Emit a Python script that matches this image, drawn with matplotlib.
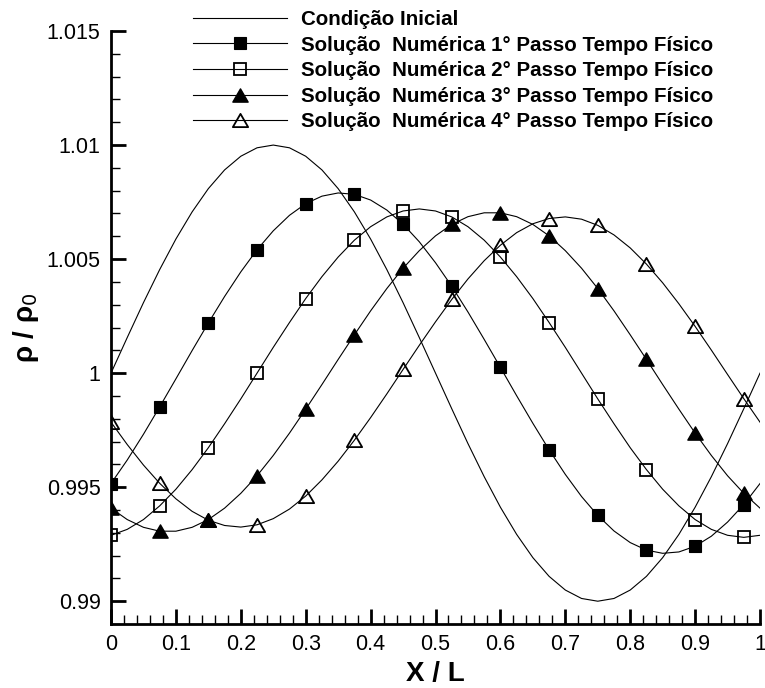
import numpy as np
import matplotlib.pyplot as plt
from matplotlib.path import Path
from matplotlib.ticker import MultipleLocator, FormatStrFormatter

plt.rcParams['font.family'] = ['Liberation Sans', 'DejaVu Sans']

# x / L sample points (symbols every third point: 0, 0.075, ... 0.975)
x_l = np.round(np.arange(41) * 0.025, 3)

rho_inicial = [1.0, 1.00156, 1.00309, 1.00454, 1.00588, 1.00707, 1.00809, 1.00891,
               1.00951, 1.00988, 1.01, 1.00988, 1.00951, 1.00891, 1.00809, 1.00707,
               1.00588, 1.00454, 1.00309, 1.00156, 1.0, 0.99844, 0.99691, 0.99546,
               0.99412, 0.99293, 0.99191, 0.99109, 0.99049, 0.99012, 0.99, 0.99012,
               0.99049, 0.99109, 0.99191, 0.99293, 0.99412, 0.99546, 0.99691, 0.99844,
               1.0]

rho_passo1 = [0.99516, 0.99619, 0.99732, 0.99852, 0.99975, 1.00099, 1.00220, 1.00336,
              1.00444, 1.00541, 1.00624, 1.00692, 1.00743, 1.00776, 1.00790, 1.00784,
              1.00759, 1.00715, 1.00653, 1.00576, 1.00484, 1.00381, 1.00268, 1.00148,
              1.00025, 0.99901, 0.99780, 0.99664, 0.99556, 0.99459, 0.99376, 0.99308,
              0.99257, 0.99224, 0.99210, 0.99216, 0.99241, 0.99285, 0.99347, 0.99424,
              0.99516]

rho_passo2 = [0.99289, 0.99315, 0.99358, 0.99418, 0.99491, 0.99577, 0.99673, 0.99778,
              0.99887, 1.0, 1.00113, 1.00222, 1.00327, 1.00423, 1.00509, 1.00583,
              1.00642, 1.00685, 1.00711, 1.0072, 1.00711, 1.00685, 1.00642, 1.00583,
              1.00509, 1.00423, 1.00327, 1.00222, 1.00113, 1.0, 0.99887, 0.99778,
              0.99673, 0.99577, 0.99491, 0.99418, 0.99358, 0.99315, 0.99289, 0.9928,
              0.99289]

rho_passo3 = [0.99408, 0.99358, 0.99324, 0.99307, 0.99307, 0.99324, 0.99358, 0.99408,
              0.99473, 0.99550, 0.99639, 0.99737, 0.99842, 0.99950, 1.00060, 1.00168,
              1.00273, 1.00371, 1.00460, 1.00537, 1.00602, 1.00652, 1.00686, 1.00703,
              1.00703, 1.00686, 1.00652, 1.00602, 1.00537, 1.00460, 1.00371, 1.00273,
              1.00168, 1.00060, 0.99950, 0.99842, 0.99737, 0.99639, 0.99550, 0.99473,
              0.99408]

rho_passo4 = [0.99785, 0.99687, 0.99597, 0.99517, 0.99449, 0.99394, 0.99355, 0.99332,
              0.99325, 0.99335, 0.99362, 0.99404, 0.99461, 0.99532, 0.99614, 0.99706,
              0.99805, 0.99909, 1.00016, 1.00122, 1.00225, 1.00323, 1.00413, 1.00493,
              1.00561, 1.00616, 1.00655, 1.00678, 1.00685, 1.00675, 1.00648, 1.00606,
              1.00549, 1.00478, 1.00396, 1.00304, 1.00205, 1.00101, 0.99994, 0.99888,
              0.99785]

labels = ['Condição Inicial',
          'Solução  Numérica 1° Passo Tempo Físico',
          'Solução  Numérica 2° Passo Tempo Físico',
          'Solução  Numérica 3° Passo Tempo Físico',
          'Solução  Numérica 4° Passo Tempo Físico']

y_ticks = [0.99, 0.995, 1.0, 1.005, 1.01, 1.015]
x_ticks = [0, 0.1, 0.2, 0.3, 0.4, 0.5, 0.6, 0.7, 0.8, 0.9, 1]

# equilateral triangle symbol (wider than the stock '^')
tri = Path([(-1, -0.866), (1, -0.866), (0, 0.866), (-1, -0.866)], closed=True)

fig = plt.figure(figsize=(7.65, 6.88), dpi=100)
ax = fig.add_axes([0.1451, 0.0930, 0.8484, 0.8619])

ax.plot(x_l, rho_inicial, color='black', lw=0.8, label=labels[0])
ax.plot(x_l, rho_passo1, color='black', lw=0.8, marker='s', ms=8.5, mfc='black',
        mec='black', mew=0.8, markevery=3, label=labels[1])
ax.plot(x_l, rho_passo2, color='black', lw=0.8, marker='s', ms=8, mfc='none',
        mec='black', mew=1.3, markevery=3, label=labels[2])
ax.plot(x_l, rho_passo3, color='black', lw=0.8, marker=tri, ms=11, mfc='black',
        mec='black', mew=1.0, markevery=3, label=labels[3])
ax.plot(x_l, rho_passo4, color='black', lw=0.8, marker=tri, ms=11, mfc='none',
        mec='black', mew=1.3, markevery=3, label=labels[4])

ax.set_xlim(0, 1)
ax.set_ylim(0.989, 1.015)

for side in ['top', 'right']:
    ax.spines[side].set_visible(False)
for side in ['left', 'bottom']:
    ax.spines[side].set_linewidth(2.0)

ax.set_xticks(x_ticks)
ax.set_yticks(y_ticks)
ax.xaxis.set_major_formatter(FormatStrFormatter('%g'))
ax.yaxis.set_major_formatter(FormatStrFormatter('%g'))
ax.xaxis.set_minor_locator(MultipleLocator(0.02))
ax.yaxis.set_minor_locator(MultipleLocator(0.001))
ax.tick_params(which='major', direction='in', length=11, width=2.0, labelsize=15.5,
               top=False, right=False)
ax.tick_params(which='minor', direction='in', length=6.5, width=1.0,
               top=False, right=False)
ax.tick_params(axis='y', which='major', pad=7.5)
ax.tick_params(axis='x', which='major', pad=7)

ax.set_xlabel('X / L', fontsize=20, fontweight='bold', va='top')
ax.xaxis.set_label_coords(0.5, -0.062)
ax.set_ylabel('ρ / ρ$_0$', fontsize=20, fontweight='bold')
ax.yaxis.set_label_coords(-0.108, 0.5)

ax.legend(loc='upper left', bbox_to_anchor=(193 / 765, 1 - 10 / 688),
          bbox_transform=fig.transFigure, frameon=False,
          prop={'weight': 'bold', 'size': 14.8}, handlelength=4.55,
          handletextpad=0.68, labelspacing=0.32, borderpad=0, borderaxespad=0,
          numpoints=1)

fig.savefig('out.png', dpi=100)
